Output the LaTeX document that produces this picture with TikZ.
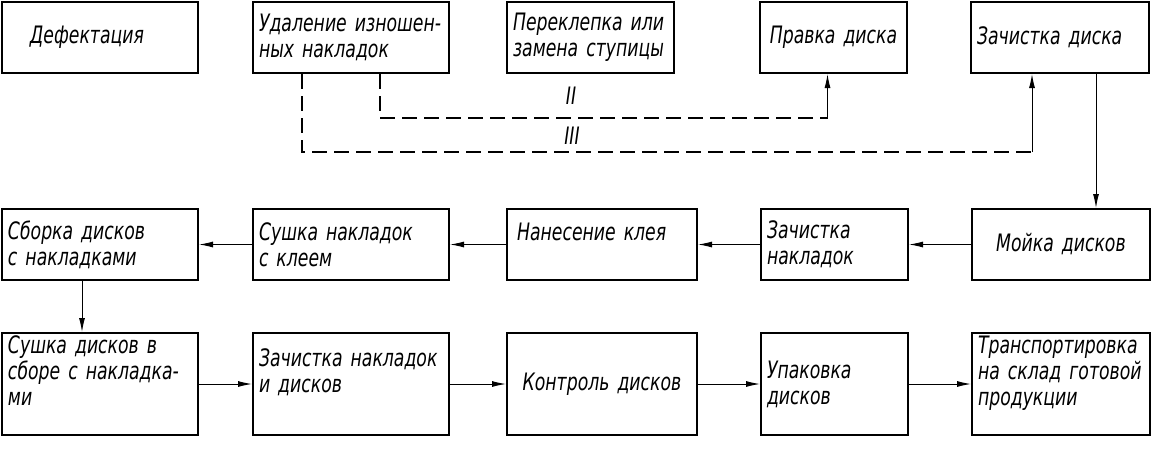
\documentclass[tikz,border=0pt]{standalone}
\usepackage{fontspec}
\setmainfont{DejaVu Sans Condensed}[FakeStretch=0.8]
\usetikzlibrary{positioning,arrows.meta}

\begin{document}
\begin{tikzpicture}[
  x=0.5pt, y=-0.5pt,
  font=\fontsize{12}{13}\selectfont\itshape,
  box/.style={draw, line width=1pt, inner xsep=3pt, inner ysep=0pt, align=left, minimum height=35.5pt},
  tall/.style={minimum height=51pt},
  wa/.style={text width=92pt},
  wb/.style={text width=89pt},
  wc/.style={text width=67.5pt},
  wd/.style={text width=83pt},
  arr/.style={-{Latex[length=7pt,width=3pt]}, line width=0.5pt},
  dline/.style={line width=0.6pt, dash pattern=on 7.5pt off 3.5pt}
]
\useasboundingbox (0,0) rectangle (1158,450);

% top row
\node[box, wa] (defekt) at (100,37.5) {\hspace{11pt}Дефектация};
\node[box, wa, right=26.5pt of defekt] (udal) {Удаление изношен-\\ных накладок};
\node[box, text width=77.5pt, right=28pt of udal] (perek) {Переклепка или\\замена ступицы};
\node[box, wc, align=center, right=42pt of perek] (pravka) {Правка диска};
\node[box, wd, right=31pt of pravka] (zachd) {Зачистка диска};

% middle row
\node[box, wa, below=67pt of defekt] (sbork) {Сборка дисков\\с накладками};
\node[box, wa, right=26.5pt of sbork] (sushn) {Сушка накладок\\с клеем};
\node[box, wb, right=28pt of sushn] (nanes) {\hspace{2pt}Нанесение клея\\\mbox{}};
\node[box, wc, right=31pt of nanes] (zachn) {Зачистка\\накладок};
\node[box, wd, align=center, right=31pt of zachn] (mojka) {Мойка дисков};

% bottom row
\node[box, tall, wa, below=25.5pt of sbork] (sushd) {Сушка дисков в\\сборе с накладка-\\ми\\\mbox{}};
\node[box, tall, wa, right=26.5pt of sushd] (zachnd) {Зачистка накладок\\и дисков\\\mbox{}};
\node[box, tall, wb, align=center, right=28pt of zachnd] (kontr) {Контроль дисков};
\node[box, tall, wc, right=31pt of kontr] (upak) {Упаковка\\дисков};
\node[box, tall, wd, right=31pt of upak] (transp) {Транспортировка\\на склад готовой\\продукции\\\mbox{}};

% dashed routes
\coordinate (u3) at ([xshift=-24.5pt]udal.south);
\coordinate (u2) at ([xshift=14.5pt]udal.south);
\coordinate (k3) at (1032,152);
\coordinate (k2) at (827.5,118);
\draw[dline] (u2) |- (k2);
\draw[dline] (u3) |- (k3);
\draw[arr] (k2) -- (k2 |- pravka.south);
\draw[arr] (k3) -- (k3 |- zachd.south);
\node (n2) at (571,96) {II};
\node (n3) at (572,136) {III};

% flow
\coordinate (d1) at ([xshift=18pt]zachd.south);
\draw[arr] (d1) -- (d1 |- mojka.north);
\draw[arr] (mojka) -- (zachn);
\draw[arr] (zachn) -- (nanes);
\draw[arr] (nanes) -- (sushn);
\draw[arr] (sushn) -- (sbork);
\coordinate (d2) at ([xshift=-9pt]sbork.south);
\draw[arr] (d2) -- (d2 |- sushd.north);
\draw[arr] (sushd) -- (zachnd);
\draw[arr] (zachnd) -- (kontr);
\draw[arr] (kontr) -- (upak);
\draw[arr] (upak) -- (transp);
\end{tikzpicture}
\end{document}
